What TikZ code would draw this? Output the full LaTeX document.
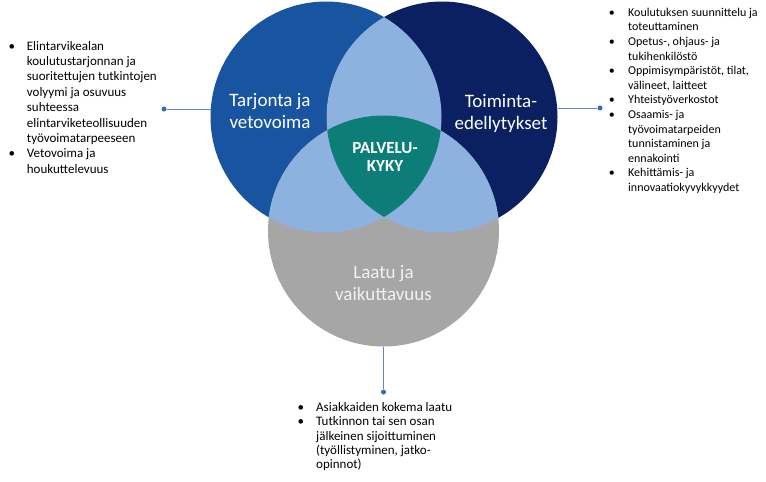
\documentclass[tikz,border=0pt]{standalone}
\usepackage{fontspec}
\setmainfont{Carlito}
\definecolor{cLeft}{HTML}{1854A0}
\definecolor{cRight}{HTML}{0A2060}
\definecolor{cLight}{HTML}{8DB2E0}
\definecolor{cTeal}{HTML}{0D7D78}
\definecolor{cGray}{HTML}{A6A6A6}
\definecolor{cLine}{HTML}{5B8BC6}
\definecolor{cDot}{HTML}{2F6EB5}
\definecolor{cPale}{HTML}{F2F2F2}
\newcommand\mybul[1]{\makebox[#1][l]{\textbullet}}
\begin{document}
\begin{tikzpicture}[x=1pt,y=-1pt,
  ring/.style={circle,minimum size=231pt,inner sep=0pt,outer sep=0pt},
  dotnode/.style={circle,fill=cDot,inner sep=0pt,minimum size=5pt},
  conn/.style={draw=cLine,line width=0.9pt},
  lbl/.style={text=white,align=center,inner sep=0pt,font=\fontsize{19}{22}\selectfont},
  lblc/.style={text=white,align=center,inner sep=0pt,font=\fontsize{17}{18.5}\selectfont\bfseries},
  lst/.style={anchor=north west,inner sep=0pt,text=black}]
\useasboundingbox (0,0) rectangle (766,482);
\fill[white] (0,0) rectangle (766,482);
\def\R{115.5}
\coordinate (cL) at (326,117);
\coordinate (cR) at (442,117);
\coordinate (cB) at (383.5,231);
\fill[cLeft] (cL) circle[radius=\R];
\fill[cRight] (cR) circle[radius=\R];
\fill[cGray] (cB) circle[radius=\R];
\begin{scope}
  \clip (cL) circle[radius=\R];
  \fill[cLight] (cR) circle[radius=\R];
  \fill[cLight] (cB) circle[radius=\R];
\end{scope}
\begin{scope}
  \clip (cR) circle[radius=\R];
  \fill[cLight] (cB) circle[radius=\R];
\end{scope}
\begin{scope}
  \clip (cL) circle[radius=\R];
  \clip (cR) circle[radius=\R];
  \fill[cTeal] (cB) circle[radius=\R];
\end{scope}
\node[ring] (Lc) at (cL) {};
\node[ring] (Rc) at (cR) {};
\node[ring] (Bc) at (cB) {};

\node[lbl] (tL) at (270,111) {Tarjonta ja\\vetovoima};
\node[lbl] (tR) at (501,113) {Toiminta-\\edellytykset};
\node[lblc] (tC) at (385,157) {PALVELU-\\KYKY};
\node[lbl,text=cPale] (tB) at (383.5,283) {Laatu ja\\vaikuttavuus};

\node[dotnode] (dL) at (164,109) {};
\node[dotnode] (dR) at (600,108) {};
\node[dotnode] (dB) at (383.5,392) {};
\draw[conn] (dL) -- (dL -| Lc.west);
\draw[conn] (dR -| Rc.east) -- (dR);
\draw[conn] (Bc.south) -- (dB);

\node[lst,font=\fontsize{13}{15.4}\selectfont] (listL) at (8.5,39.2) {%
\begin{tabular}{@{}l@{}l@{}}
\mybul{18.2pt} & Elintarvikealan\\
 & koulutustarjonnan ja\\
 & suoritettujen tutkintojen\\
 & volyymi ja osuvuus\\
 & suhteessa\\
 & elintarviketeollisuuden\\
 & työvoimatarpeeseen\\
\mybul{18.2pt} & Vetovoima ja\\
 & houkuttelevuus
\end{tabular}};

\node[lst,font=\fontsize{12}{14.6}\selectfont] (listR) at (608.7,5.9) {%
\begin{tabular}{@{}l@{}l@{}}
\mybul{19.3pt} & Koulutuksen suunnittelu ja\\
 & toteuttaminen\\
\mybul{19.3pt} & Opetus-, ohjaus- ja\\
 & tukihenkilöstö\\
\mybul{19.3pt} & Oppimisympäristöt, tilat,\\
 & välineet, laitteet\\
\mybul{19.3pt} & Yhteistyöverkostot\\
\mybul{19.3pt} & Osaamis- ja\\
 & työvoimatarpeiden\\
 & tunnistaminen ja\\
 & ennakointi\\
\mybul{19.3pt} & Kehittämis- ja\\
 & innovaatiokyvykkyydet
\end{tabular}};

\node[lst,font=\fontsize{13}{14.3}\selectfont] (listB) at (297.5,401.3) {%
\begin{tabular}{@{}l@{}l@{}}
\mybul{18.5pt} & Asiakkaiden kokema laatu\\
\mybul{18.5pt} & Tutkinnon tai sen osan\\
 & jälkeinen sijoittuminen\\
 & (työllistyminen, jatko-\\
 & opinnot)
\end{tabular}};
\end{tikzpicture}
\end{document}
